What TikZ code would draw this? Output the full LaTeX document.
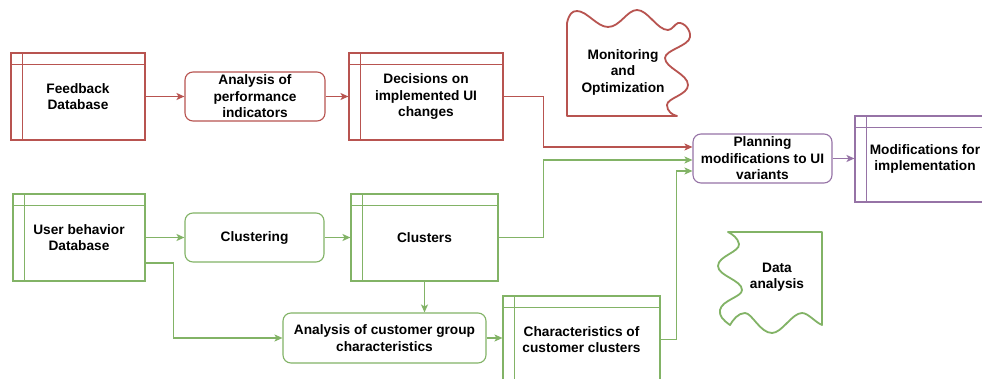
\documentclass[tikz,border=0pt]{standalone}
\usepackage{fontspec}
\setmainfont{Liberation Sans}
\usetikzlibrary{arrows.meta,positioning,calc}

\definecolor{fbred}{HTML}{B85450}
\definecolor{ubgreen}{HTML}{82B366}
\definecolor{plpurple}{HTML}{9673A6}

\tikzset{
  storebox/.style={
    draw=#1, fill=white, line width=1.1pt,
    minimum width=134pt, minimum height=87pt,
    inner sep=0pt, align=center,
    append after command={
      ([xshift=12pt]\tikzlastnode.north west)
        edge[draw=#1, line width=1.1pt]
      ([xshift=12pt]\tikzlastnode.south west)
      ([yshift=-12pt]\tikzlastnode.north west)
        edge[draw=#1, line width=1.1pt]
      ([yshift=-12pt]\tikzlastnode.north east)
    }},
  stepround/.style={
    draw=#1, fill=white, rounded corners=8pt, line width=1.1pt,
    minimum width=140pt, minimum height=49pt,
    inner sep=0pt, align=center},
  flow/.style={
    draw=#1, line width=1.5pt,
    -{Stealth[length=8pt,width=7pt,inset=2pt]}},
  wavy/.style={draw=#1, line width=1.8pt, line join=round}
}

\begin{document}
\begin{tikzpicture}[
  x=1pt,
  y=-1pt,
  every node/.style={font=\fontsize{13.7pt}{16.5pt}\selectfont\bfseries}
]

\useasboundingbox (0,0) rectangle (982,379);
\fill[white] (0,0) rectangle (982,379);
\clip (0,0) rectangle (982,379);

% Feedback branch
\node[storebox=fbred] (fbdb) at (78,96.5) {Feedback\\Database};
\node[stepround=fbred] (perf) at (255,96.5) {Analysis of\\performance\\indicators};
\node[storebox=fbred, minimum width=154pt] (decide) at (426,96.5)
  {Decisions on\\implemented UI\\changes};

% Monitoring and Optimization
\draw[wavy=fbred]
  (567,116) -- (567,23)
  .. controls (569,14) and (572,11) .. (577,11)
  .. controls (587,11) and (597,27) .. (608,27)
  .. controls (620,27) and (627,10) .. (637,10)
  .. controls (648,10) and (657,30) .. (668,30)
  .. controls (672,30) and (675,24) .. (678,23)
  .. controls (684,22) and (691,30) .. (690,37)
  .. controls (689,46) and (665,50) .. (665,58)
  .. controls (665,68) and (688,74) .. (688,85)
  .. controls (688,95) and (667,98) .. (667,105)
  .. controls (667,111) and (672,115) .. (677,116)
  -- cycle;
\node[align=center] (monitor) at (623,72) {Monitoring\\and\\Optimization};

% Planning and result
\node[stepround=plpurple, minimum width=139pt] (plan) at (762.5,158.5)
  {Planning\\modifications to UI\\variants};
\node[storebox=plpurple, minimum width=140pt, minimum height=86pt] (modif) at (925,159)
  {Modifications for\\implementation};

% User behavior branch
\node[storebox=ubgreen, minimum width=132pt] (ubdb) at (79,237.5) {User behavior\\Database};
\node[stepround=ubgreen, minimum width=139pt] (clust) at (254.5,237.5) {Clustering};
\node[storebox=ubgreen, minimum width=147pt] (clusters) at (424.5,237.5) {Clusters};
\node[stepround=ubgreen, minimum width=203pt, minimum height=50pt] (groupan) at (384.5,338)
  {Analysis of customer group\\characteristics};
\node[storebox=ubgreen, minimum width=157pt] (charac) at (581.5,339.5)
  {Characteristics of\\customer clusters};

% Data analysis
\draw[wavy=ubgreen]
  (728,232) -- (822,232) -- (822,325)
  .. controls (815,322) and (808,313) .. (802,313)
  .. controls (792,313) and (782,333) .. (772,333)
  .. controls (760,333) and (752,313) .. (745,313)
  .. controls (738,313) and (733,320) .. (730,325)
  .. controls (723,320) and (719,316) .. (720,310)
  .. controls (722,300) and (742,297) .. (742,290)
  .. controls (742,280) and (718,276) .. (718,266)
  .. controls (718,256) and (740,252) .. (739,244)
  .. controls (738,238) and (732,234) .. (728,232)
  -- cycle;
\node[align=center] (dataan) at (777,277) {Data\\analysis};

% Entry points on the planning box
\coordinate (redin) at ($(plan.west)+(0,-11.5)$);
\coordinate (greenin) at ($(plan.west)+(0,1.5)$);
\coordinate (greenlow) at ($(plan.west)+(0,12.5)$);
\coordinate (ubout) at ($(ubdb.east)+(0,25.5)$);

% Connectors
\draw[flow=fbred] (fbdb) -- (perf);
\draw[flow=fbred] (perf) -- (decide);
\draw[flow=fbred] (decide.east) -- ++(40,0) |- (redin);

\draw[flow=ubgreen] (ubdb) -- (clust);
\draw[flow=ubgreen] (clust) -- (clusters);
\draw[flow=ubgreen] (clusters.east) -- ++(45,0) |- (greenin);
\draw[flow=ubgreen] (ubout) -- ++(28,0) |- (groupan.west);
\draw[flow=ubgreen] (clusters.south) -- (clusters.south |- groupan.north);
\draw[flow=ubgreen] (groupan.east) -- (groupan.east -| charac.west);
\draw[flow=ubgreen] (charac.east) -- ++(16,0) |- (greenlow);

\draw[flow=plpurple] (plan.east) -- (plan.east -| modif.west);

\end{tikzpicture}
\end{document}
